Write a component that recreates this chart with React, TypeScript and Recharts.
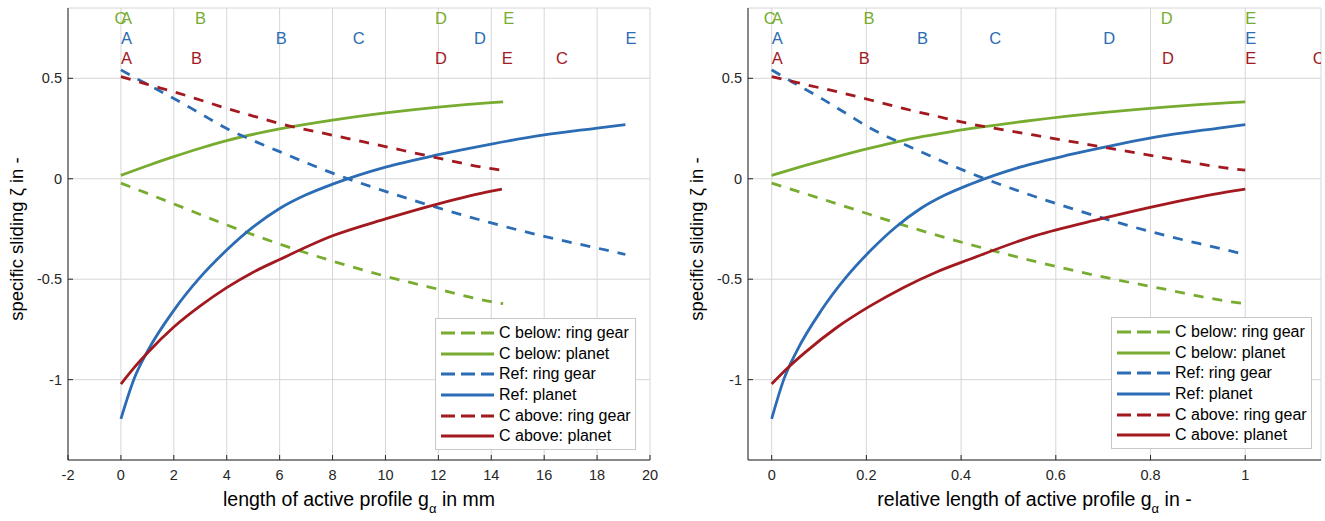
import React from 'react';
import {
  ComposedChart,
  Line,
  Scatter,
  XAxis,
  YAxis,
  CartesianGrid,
  Legend,
  Label,
} from 'recharts';

// position on the path of contact g (mm) and specific sliding
const gBelow = [0, 1, 2, 3, 4, 6, 8, 10, 12, 14, 14.45];
const belowRing = [-0.022, -0.073, -0.125, -0.178, -0.23, -0.325, -0.41, -0.485, -0.55, -0.612, -0.622];
const belowPlanet = [0.017, 0.065, 0.11, 0.152, 0.19, 0.248, 0.292, 0.328, 0.357, 0.379, 0.383];

const gRef = [0, 0.5, 1, 2, 3, 4, 5, 6, 7, 8, 10, 12, 14, 16, 18, 19.07];
const refRing = [0.542, 0.505, 0.47, 0.4, 0.325, 0.25, 0.19, 0.135, 0.08, 0.028, -0.063, -0.145, -0.22, -0.287, -0.345, -0.377];
const refPlanet = [-1.195, -0.995, -0.86, -0.655, -0.49, -0.355, -0.24, -0.148, -0.08, -0.027, 0.058, 0.12, 0.173, 0.218, 0.252, 0.27];

const gAbove = [0, 0.5, 1, 2, 3, 4, 5, 6, 8, 10, 12, 14, 14.4];
const aboveRing = [0.508, 0.49, 0.47, 0.433, 0.392, 0.35, 0.312, 0.275, 0.217, 0.16, 0.103, 0.05, 0.043];
const abovePlanet = [-1.022, -0.94, -0.867, -0.738, -0.633, -0.542, -0.465, -0.402, -0.284, -0.2, -0.125, -0.062, -0.052];

// contact points A..E in mm (C lies outside the profile for the shifted variants)
const pointNames = ['A', 'B', 'C', 'D', 'E'];
const pointsBelow = [0, 2.8, -0.24, 11.87, 14.45];
const pointsRef = [0, 5.85, 8.76, 13.35, 19.07];
const pointsAbove = [0, 2.65, 16.45, 11.87, 14.4];

const yTicks = [-1, -0.5, 0, 0.5];
const mmTicks = [-2, 0, 2, 4, 6, 8, 10, 12, 14, 16, 18, 20];
const relTicks = [0, 0.2, 0.4, 0.6, 0.8, 1];

const GREEN = '#77AC30';
const BLUE = '#2B6CB4';
const RED = '#A2191F';
const AXIS = '#262626';
const FONT = '"Liberation Sans", Arial, Helvetica, sans-serif';

const series = [
  { name: 'C below: ring gear', g: gBelow, v: belowRing, color: GREEN, dashed: true },
  { name: 'C below: planet', g: gBelow, v: belowPlanet, color: GREEN, dashed: false },
  { name: 'Ref: ring gear', g: gRef, v: refRing, color: BLUE, dashed: true },
  { name: 'Ref: planet', g: gRef, v: refPlanet, color: BLUE, dashed: false },
  { name: 'C above: ring gear', g: gAbove, v: aboveRing, color: RED, dashed: true },
  { name: 'C above: planet', g: gAbove, v: abovePlanet, color: RED, dashed: false },
];

const letterRows = [
  { g: gBelow, pts: pointsBelow, y: 0.8, color: GREEN },
  { g: gRef, pts: pointsRef, y: 0.7, color: BLUE },
  { g: gAbove, pts: pointsAbove, y: 0.6, color: RED },
];

const letterShape = (color: string) => (p: any) => (
  <text x={p.cx} y={p.cy} fill={color} fontSize={16.5} fontFamily={FONT} dominantBaseline="central">
    {p.payload.t}
  </text>
);

const LegendBox = () => (
  <div
    style={{
      width: 199,
      border: '1px solid #c8c8c8',
      background: '#fff',
      padding: '4px 0 2px',
      fontFamily: FONT,
      fontSize: 16,
      color: '#000',
    }}
  >
    {series.map((s) => (
      <div key={s.name} style={{ display: 'flex', alignItems: 'center', height: 20.6 }}>
        <svg width={58} height={10} style={{ flex: 'none' }}>
          <line x1={5} x2={58} y1={5} y2={5} stroke={s.color} strokeWidth={3} strokeDasharray={s.dashed ? '14 6' : undefined} />
        </svg>
        <span style={{ marginLeft: 5, whiteSpace: 'nowrap', lineHeight: 1 }}>{s.name}</span>
      </div>
    ))}
  </div>
);

interface PanelProps {
  relative: boolean;
  width: number;
  marginRight: number;
  xDomain: [number, number];
  xTicks: number[];
  xTitle: [string, string];
  legendLeft: number;
  legendTop: number;
}

function Panel({ relative, width, marginRight, xDomain, xTicks, xTitle, legendLeft, legendTop }: PanelProps) {
  const plotLeft = 68;
  const plotRight = width - marginRight;
  const toX = (g: number[], x: number) => (relative ? x / g[g.length - 1] : x);

  return (
    <ComposedChart width={width} height={521} margin={{ top: 8, right: marginRight, bottom: 11, left: 8 }}>
      <CartesianGrid xAxisId="b" yAxisId="l" stroke="#d6d6d6" />
      <XAxis
        xAxisId="b"
        dataKey="x"
        type="number"
        domain={xDomain}
        ticks={xTicks}
        interval={0}
        allowDataOverflow
        height={50}
        tickSize={-5}
        tickMargin={15}
        stroke={AXIS}
        tick={{ fill: AXIS, fontSize: 14.5, fontFamily: FONT }}
      >
        <Label
          content={() => (
            <text x={(plotLeft + plotRight) / 2} y={506} textAnchor="middle" fontSize={19.5} fill="#000" fontFamily={FONT}>
              {xTitle[0]}
              <tspan dy={7} fontSize={13}>α</tspan>
              <tspan dy={-7}>{xTitle[1]}</tspan>
            </text>
          )}
        />
      </XAxis>
      <XAxis
        xAxisId="t"
        orientation="top"
        type="number"
        domain={xDomain}
        ticks={xTicks}
        interval={0}
        allowDataOverflow
        height={0}
        tickSize={-5}
        tick={false}
        stroke={AXIS}
      />
      <YAxis
        yAxisId="l"
        type="number"
        domain={[-1.4, 0.85]}
        ticks={yTicks}
        interval={0}
        allowDataOverflow
        width={60}
        tickSize={-5}
        tickMargin={11}
        stroke={AXIS}
        tick={{ fill: AXIS, fontSize: 14.5, fontFamily: FONT }}
      >
        <Label
          content={() => (
            <text
              x={16}
              y={239}
              transform="rotate(-90, 16, 239)"
              textAnchor="middle"
              dominantBaseline="central"
              fontSize={18.5}
              fill="#000"
              fontFamily={FONT}
            >
              specific sliding ζ in -
            </text>
          )}
        />
      </YAxis>
      <YAxis
        yAxisId="r"
        orientation="right"
        type="number"
        domain={[-1.4, 0.85]}
        ticks={yTicks}
        interval={0}
        allowDataOverflow
        width={0}
        tickSize={-5}
        tick={false}
        stroke={AXIS}
      />
      {series.map((s) => (
        <Line
          key={s.name}
          xAxisId="b"
          yAxisId="l"
          name={s.name}
          data={s.g.map((g, i) => ({ x: toX(s.g, g), y: s.v[i] }))}
          dataKey="y"
          type="monotone"
          stroke={s.color}
          strokeWidth={2.8}
          strokeDasharray={s.dashed ? '10 9' : undefined}
          dot={false}
          activeDot={false}
          isAnimationActive={false}
        />
      ))}
      {letterRows.map((r, k) => (
        <Scatter
          key={k}
          xAxisId="b"
          yAxisId="l"
          legendType="none"
          data={r.pts.map((g, i) => ({ x: toX(r.g, g), y: r.y, t: pointNames[i] }))}
          dataKey="y"
          shape={letterShape(r.color)}
          isAnimationActive={false}
        />
      ))}
      <Legend
        layout="vertical"
        align="center"
        verticalAlign="middle"
        content={() => <LegendBox />}
        wrapperStyle={{ position: 'absolute', left: legendLeft, top: legendTop, width: 'auto', height: 'auto' }}
      />
    </ComposedChart>
  );
}

export default function App() {
  return (
    <div style={{ position: 'absolute', left: 0, top: 0, width: 1325, height: 521, background: '#fff' }}>
      <div style={{ position: 'absolute', left: 0, top: 0 }}>
        <Panel
          relative={false}
          width={660}
          marginRight={10}
          xDomain={[-2, 20]}
          xTicks={mmTicks}
          xTitle={['length of active profile g', ' in mm']}
          legendLeft={435}
          legendTop={318}
        />
      </div>
      <div style={{ position: 'absolute', left: 680, top: 0 }}>
        <Panel
          relative
          width={645}
          marginRight={4}
          xDomain={[-0.05, 1.16]}
          xTicks={relTicks}
          xTitle={['relative length of active profile g', ' in -']}
          legendLeft={431}
          legendTop={317}
        />
      </div>
    </div>
  );
}
